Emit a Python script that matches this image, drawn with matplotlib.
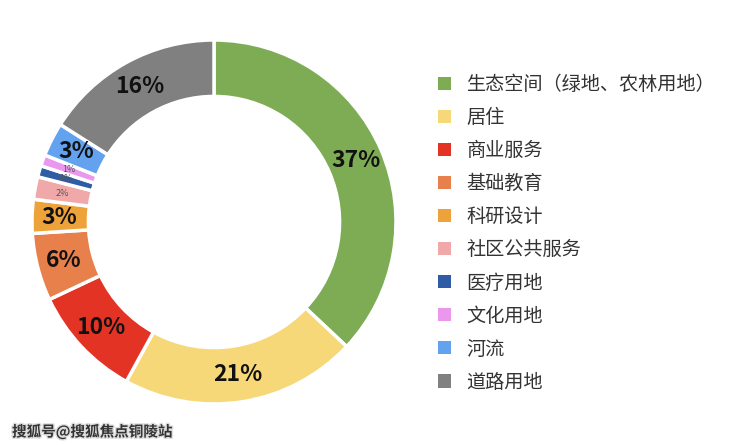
import matplotlib
matplotlib.use("Agg")
import matplotlib.pyplot as plt
import numpy as np
from matplotlib.patches import Patch
import matplotlib.patheffects as pe

plt.rcParams['font.family'] = ['Noto Sans CJK SC', 'DejaVu Sans']

categories = ['生态空间（绿地、农林用地）', '居住', '商业服务', '基础教育', '科研设计',
              '社区公共服务', '医疗用地', '文化用地', '河流', '道路用地']
values = [37, 21, 10, 6, 3, 2, 1, 1, 3, 16]
labels = ['37%', '21%', '10%', '6%', '3%', '2%', '1%', '1%', '3%', '16%']
colors = ['#7EAC55', '#F6D879', '#E23325', '#E8804C', '#EEA23A',
          '#F0A9A8', '#2E5DA5', '#EC97EE', '#62A2EE', '#808080']

fig = plt.figure(figsize=(7.4, 4.45), dpi=100)
cx, cy, R = 214, 222, 182
ax = fig.add_axes([(cx - R) / 740, (445 - cy - R) / 445, 2 * R / 740, 2 * R / 445])
ax.set_aspect('equal')

wedges, _ = ax.pie(values, colors=colors, startangle=90, counterclock=False,
                   radius=1.0, wedgeprops=dict(width=0.31, edgecolor='white', linewidth=2.5))
ax.set_xlim(-1, 1)
ax.set_ylim(-1, 1)

r_lab = 0.85
for w, lab, v in zip(wedges, labels, values):
    ang = np.deg2rad((w.theta1 + w.theta2) / 2)
    x, y = r_lab * np.cos(ang), r_lab * np.sin(ang)
    if v <= 2:
        ax.text(x, y, lab, ha='center', va='center', fontsize=6.5, color='#555555')
    else:
        ax.text(x, y, lab, ha='center', va='center', fontsize=16.5, fontweight='bold',
                color='#111111')

handles = [Patch(facecolor=c, edgecolor='none') for c in colors]
leg = fig.legend(handles, categories, loc='upper left', bbox_to_anchor=(438 / 740, 1 - 74 / 445),
                 frameon=False, fontsize=13.8, handlelength=0.68, handleheight=0.68,
                 handletextpad=0.8, labelspacing=0.63, borderaxespad=0, borderpad=0)
for t in leg.get_texts():
    t.set_color('#333333')

fig.text(12 / 740, 1 - 432 / 445, '搜狐号@搜狐焦点铜陵站', fontsize=10.5, color='#333333',
         fontweight='bold', va='center', ha='left',
         path_effects=[pe.withStroke(linewidth=2, foreground='#dddddd')])

fig.savefig('out.png', dpi=100)
